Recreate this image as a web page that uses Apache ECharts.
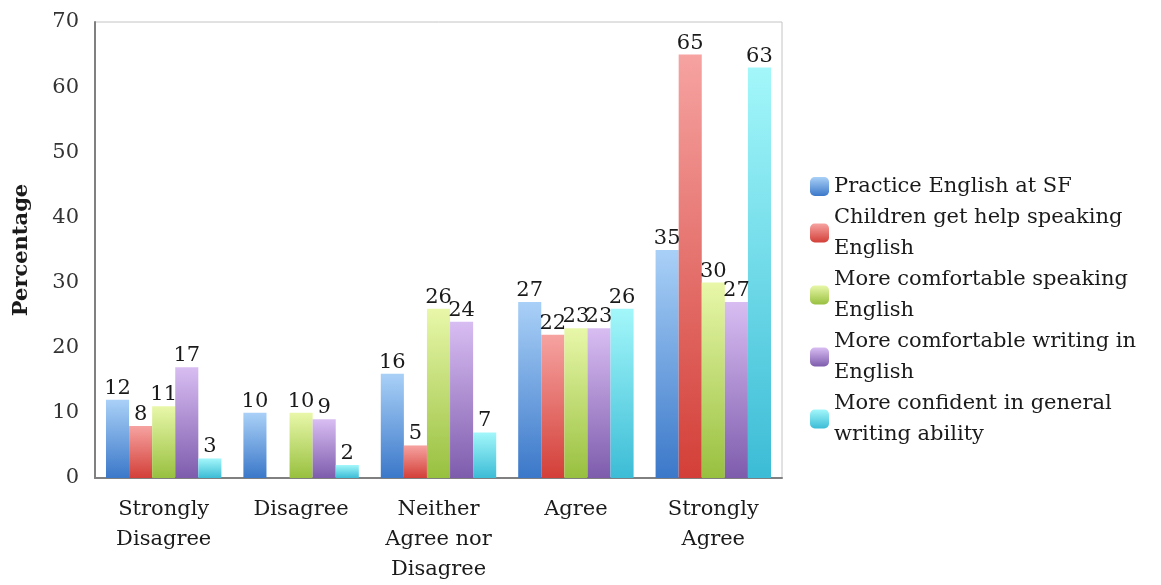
<!DOCTYPE html>
<html>
<head>
<meta charset="utf-8">
<script src="https://cdn.jsdelivr.net/npm/echarts@6/dist/echarts.min.js"></script>
<style>
  html, body { margin: 0; padding: 0; background: #fff; }
  #chart { width: 1161px; height: 585px; }
</style>
</head>
<body>
<div id="chart"></div>
<script>
// categories and series values
var categories = ['Strongly\nDisagree', 'Disagree', 'Neither\nAgree nor\nDisagree', 'Agree', 'Strongly\nAgree'];
var seriesNames = [
  'Practice English at SF',
  'Children get help speaking\nEnglish',
  'More comfortable speaking\nEnglish',
  'More comfortable writing in\nEnglish',
  'More confident in general\nwriting ability'
];
var practiceSF = [12, 10, 16, 27, 35];
var childrenHelp = [8, null, 5, 22, 65];
var comfortSpeaking = [11, 10, 26, 23, 30];
var comfortWriting = [17, 9, 24, 23, 27];
var confidentWriting = [3, 2, 7, 26, 63];
var yTicks = [0, 10, 20, 30, 40, 50, 60, 70];

var fontFam = '"DejaVu Serif", serif';

// gradient colours, top -> bottom
var palette = [
  ['#a9d0f7', '#3b78c9'],
  ['#f6a3a1', '#d33f38'],
  ['#e8f7a9', '#98c03f'],
  ['#d8bdf2', '#7e5cad'],
  ['#a3f7fa', '#3cbcd6']
];

function grad(c) {
  return new echarts.graphic.LinearGradient(0, 0, 0, 1, [
    { offset: 0, color: c[0] },
    { offset: 1, color: c[1] }
  ]);
}

var allData = [practiceSF, childrenHelp, comfortSpeaking, comfortWriting, confidentWriting];

var chart = echarts.init(document.getElementById('chart'));

var option = {
  animation: false,
  // Setup grid
  grid: {
    left: 95,
    right: 379,
    top: 22,
    bottom: 105,
    show: true,
    borderColor: '#c4c4c4',
    borderWidth: 1
  },
  // Add legend
  legend: {
    orient: 'vertical',
    left: 805,
    top: 166,
    itemGap: 0,
    itemWidth: 19,
    itemHeight: 19,
    textStyle: {
      fontFamily: fontFam,
      fontSize: 21,
      color: '#1a1a1a',
      lineHeight: 31
    },
    data: seriesNames
  },
  // Horizontal axis
  xAxis: {
    type: 'category',
    data: categories,
    axisLine: { lineStyle: { color: '#808080', width: 2 } },
    axisTick: { show: false },
    axisLabel: {
      fontFamily: fontFam,
      fontSize: 21,
      color: '#1a1a1a',
      lineHeight: 30,
      margin: 17,
      interval: 0
    }
  },
  // Vertical axis
  yAxis: {
    type: 'value',
    min: yTicks[0],
    max: yTicks[yTicks.length - 1],
    interval: 10,
    name: 'Percentage',
    nameLocation: 'middle',
    nameGap: 63,
    nameRotate: 90,
    nameTextStyle: {
      fontFamily: fontFam,
      fontSize: 21,
      fontWeight: 'bold',
      color: '#1a1a1a'
    },
    axisLine: { show: true, lineStyle: { color: '#808080', width: 2 } },
    axisTick: { show: false },
    splitLine: { show: false },
    axisLabel: {
      fontFamily: fontFam,
      fontSize: 21,
      color: '#333',
      margin: 16
    }
  },
  // Add series
  series: seriesNames.map(function (name, i) {
    return {
      name: name,
      type: 'bar',
      barGap: '0%',
      barCategoryGap: '16%',
      data: allData[i],
      itemStyle: { color: grad(palette[i]) },
      label: {
        show: true,
        position: 'top',
        distance: 1,
        fontFamily: fontFam,
        fontSize: 21,
        color: '#1a1a1a'
      }
    };
  })
};

chart.setOption(option);
</script>
</body>
</html>
